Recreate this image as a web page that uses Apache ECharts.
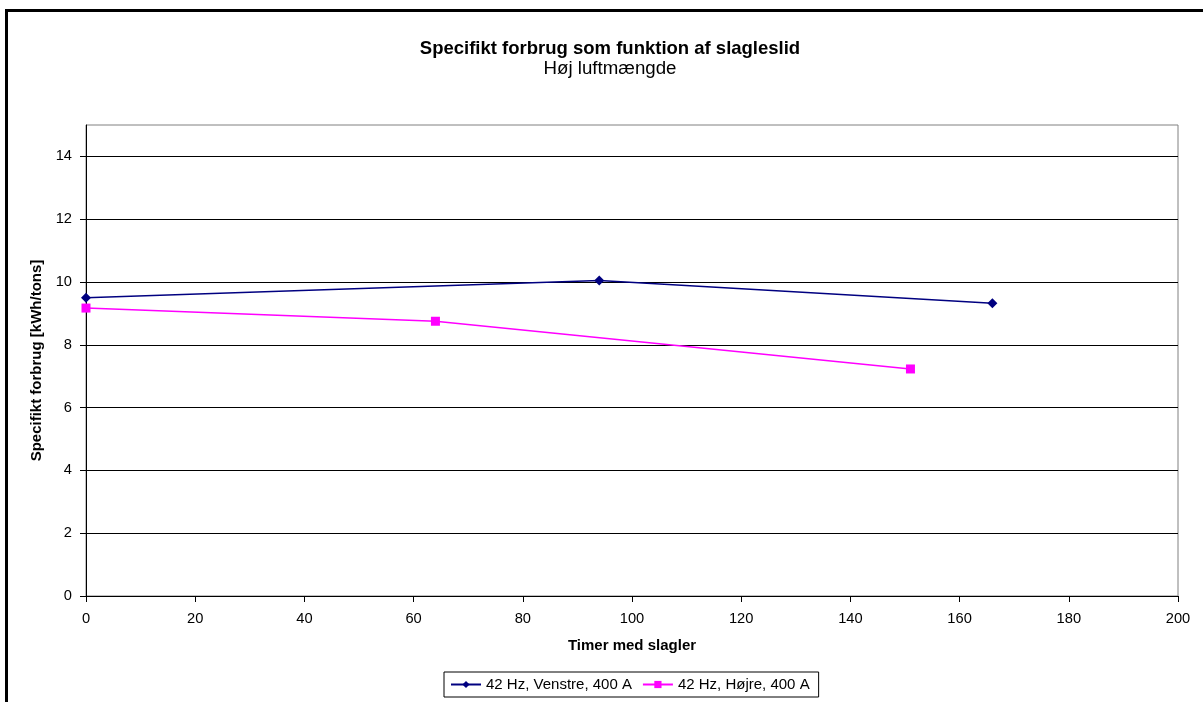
<!DOCTYPE html>
<html>
<head>
<meta charset="utf-8">
<script src="https://cdn.jsdelivr.net/npm/echarts@6/dist/echarts.min.js"></script>
<style>
html,body{margin:0;padding:0;background:#fff;overflow:hidden;}
#frame{position:absolute;left:5px;top:9px;width:1400px;height:900px;border:3px solid #000;box-sizing:border-box;}
#chart{position:absolute;left:0;top:0;width:1203px;height:702px;}
</style>
</head>
<body>
<div id="frame"></div>
<div id="chart"></div>
<script>
const seriesNames = ['42 Hz, Venstre, 400 A', '42 Hz, Højre, 400 A'];
const venstreX = [0, 94, 166];
const venstreY = [9.5, 10.05, 9.32];
const hojreX = [0, 64, 151];
const hojreY = [9.17, 8.75, 7.23];
const xTicks = [0, 20, 40, 60, 80, 100, 120, 140, 160, 180, 200];
const yTicks = [0, 2, 4, 6, 8, 10, 12, 14];

const chart = echarts.init(document.getElementById('chart'), null, {renderer: 'canvas'});
const font = 'Arial, "Liberation Sans", sans-serif';
chart.setOption({
  animation: false,
  backgroundColor: 'transparent',
  title: {
    text: 'Specifikt forbrug som funktion af slagleslid',
    subtext: 'Høj luftmængde',
    left: 605,
    textAlign: 'center',
    top: 34,
    itemGap: 1,
    textStyle: {fontFamily: font, fontSize: 18.5, fontWeight: 'bold', color: '#000'},
    subtextStyle: {fontFamily: font, fontSize: 18.7, color: '#000'}
  },
  grid: {left: 86, top: 125, width: 1092, height: 471, show: true, borderColor: '#808080', borderWidth: 1, backgroundColor: 'transparent'},
  legend: {
    left: 444, top: 672,
    padding: [5, 9, 5, 6],
    itemGap: 10,
    itemWidth: 30, itemHeight: 9,
    borderColor: '#000', borderWidth: 1, borderRadius: 0,
    textStyle: {fontFamily: font, fontSize: 15, color: '#000'},
    data: seriesNames
  },
  xAxis: {
    type: 'value', min: 0, max: 200, interval: 20,
    name: 'Timer med slagler', nameLocation: 'middle', nameGap: 42,
    nameTextStyle: {fontFamily: font, fontSize: 15, fontWeight: 'bold', color: '#000'},
    axisLine: {show: true, lineStyle: {color: '#000', width: 1}},
    axisTick: {show: true, length: 6, lineStyle: {color: '#000'}},
    axisLabel: {fontFamily: font, fontSize: 14.7, color: '#000', margin: 15,
      formatter: v => xTicks.includes(v) ? String(v) : ''},
    splitLine: {show: false}
  },
  yAxis: {
    type: 'value', min: 0, max: 15, interval: 2,
    name: 'Specifikt forbrug [kWh/tons]', nameLocation: 'middle', nameGap: 35, nameRotate: 90,
    nameTextStyle: {fontFamily: font, fontSize: 15, fontWeight: 'bold', color: '#000'},
    axisLine: {show: true, lineStyle: {color: '#000', width: 1}},
    axisTick: {show: true, length: 6, lineStyle: {color: '#000'}, customValues: yTicks},
    axisLabel: {fontFamily: font, fontSize: 14.7, color: '#000', margin: 14, customValues: yTicks,
      formatter: v => yTicks.includes(v) ? String(v) : ''},
    splitLine: {show: true, lineStyle: {color: '#000', width: 1}}
  },
  series: [
    {
      name: seriesNames[0], type: 'line',
      data: venstreX.map((x, i) => [x, venstreY[i]]),
      symbol: 'diamond', symbolSize: 10,
      lineStyle: {color: '#000080', width: 1.5},
      itemStyle: {color: '#000080'},
      color: '#000080'
    },
    {
      name: seriesNames[1], type: 'line',
      data: hojreX.map((x, i) => [x, hojreY[i]]),
      symbol: 'rect', symbolSize: 9,
      lineStyle: {color: '#FF00FF', width: 1.5},
      itemStyle: {color: '#FF00FF'},
      color: '#FF00FF'
    }
  ]
});
</script>
</body>
</html>
